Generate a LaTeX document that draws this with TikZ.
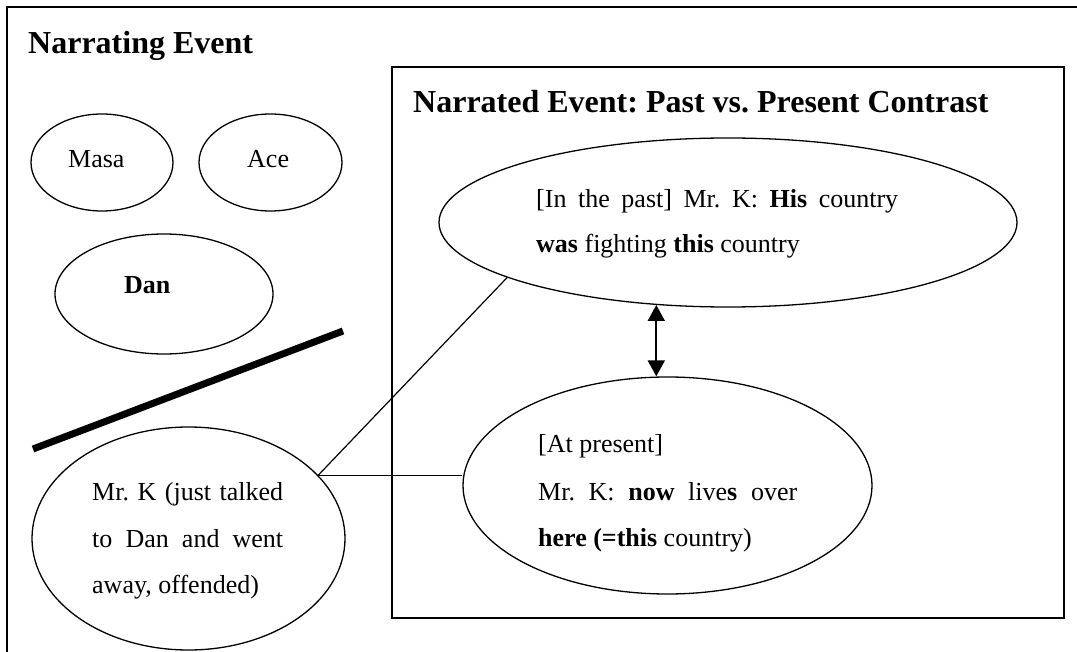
\documentclass[tikz,border=0pt]{standalone}
\usepackage{fontspec}
\setmainfont{Liberation Serif}
\usetikzlibrary{shapes.geometric,arrows.meta}
\frenchspacing

\begin{document}
\begin{tikzpicture}[x=1pt,y=-1pt,
  bubble/.style={ellipse,draw,line width=1.3pt,inner sep=0pt},
  frame/.style={draw,line width=1.8pt,inner sep=0pt},
  txt/.style={anchor=base west,inner sep=0pt,font=\fontsize{26}{30}\selectfont},
  heading/.style={anchor=base west,inner sep=0pt,font=\fontsize{32}{38}\selectfont\bfseries},
  link/.style={line width=1.2pt},
  twoway/.style={line width=1.8pt,{Triangle[width=17pt,length=16pt]}-{Triangle[width=17pt,length=16pt]}}]
\useasboundingbox (0,0) rectangle (1077,652);

% outer frame of the narrating event
\draw[line width=1.8pt] (7,652) -- (7,7) -- (1077,7);
\node[heading] (narrating) at (28,54) {Narrating Event};

% participants
\node[bubble,minimum width=142pt,minimum height=97pt] (masa) at (102,162.5) {};
\node[txt] (masat) at (68,168) {Masa};
\node[bubble,minimum width=143pt,minimum height=97pt] (ace) at (270.5,162.5) {};
\node[txt] (acet) at (247,168) {Ace};
\node[bubble,minimum width=218pt,minimum height=120pt] (dan) at (164,294) {};
\node[txt,font=\fontsize{26}{30}\selectfont\bfseries] (dant) at (124,294) {Dan};

% thick dividing stroke
\draw[line width=7pt] (33,449) -- (343,331);

% Mr. K
\node[bubble,minimum width=313pt,minimum height=223pt] (mrk) at (188.5,538.5) {};
\node[txt] (k1) at (92,500) {\makebox[191pt][s]{Mr. K (just talked}};
\node[txt] (k2) at (92,547) {\makebox[191pt][s]{to Dan and went}};
\node[txt] (k3) at (92,593) {away, offended)};

% inner box: narrated event
\node[frame,minimum width=672pt,minimum height=551pt] (box) at (728,342.5) {};
\node[heading] (narrated) at (413,113) {Narrated Event: Past vs. Present Contrast};

% past
\node[bubble,minimum width=578pt,minimum height=169pt] (past) at (728,222.5) {};
\node[txt] (p1) at (536,208) {\makebox[362pt][s]{[In the past] Mr. K: \textbf{His} country}};
\node[txt] (p2) at (536,253) {\textbf{was} fighting \textbf{this} country};

% present
\node[bubble,minimum width=409pt,minimum height=217pt] (pres) at (667.5,485.5) {};
\node[txt] (r1) at (538,453) {[At present]};
\node[txt] (r2) at (538,500) {\makebox[259pt][s]{Mr. K: \textbf{now} live\textbf{s} over}};
\node[txt] (r3) at (538,546) {\textbf{here (=this} country)};

% connectors
\coordinate (kv) at (mrk.26);
\draw[link] (kv) -- (past.194.5);
\draw[link] (kv) -- (kv -| pres.west);
\draw[twoway] (past.-131.4) -- (past.-131.4 |- pres.north);
\end{tikzpicture}
\end{document}
